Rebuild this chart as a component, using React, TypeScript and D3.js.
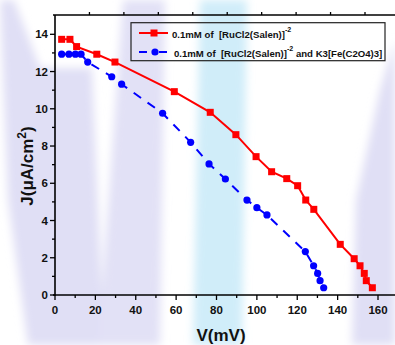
import React from "react";
import * as d3 from "d3";

const redV = [3.3, 7.4, 10.7, 20.7, 29.7, 59.1, 76.9, 89.6, 99.6, 107.3, 114.8, 120.2, 124.2, 128.2, 141.3, 148.2, 151.1, 153.2, 154.2, 157.2];
const redJ = [13.73, 13.73, 13.34, 12.93, 12.51, 10.92, 9.81, 8.61, 7.43, 6.62, 6.25, 5.87, 5.1, 4.6, 2.72, 1.95, 1.57, 1.16, 0.77, 0.39];
const blueV = [3.3, 6.9, 10.1, 12.9, 16.2, 28.1, 33.0, 53.3, 67.2, 76.3, 84.4, 95.1, 100.0, 105.0, 124.0, 128.1, 130.1, 131.3, 133.1];
const blueJ = [12.93, 12.93, 12.93, 12.93, 12.51, 11.72, 11.32, 9.76, 8.2, 7.04, 6.23, 5.1, 4.69, 4.3, 2.33, 1.57, 1.16, 0.77, 0.39];
const xTicks = [0, 20, 40, 60, 80, 100, 120, 140, 160];
const xMinor = [10, 30, 50, 70, 90, 110, 130, 150, 170];
const yTicks = [0, 2, 4, 6, 8, 10, 12, 14];
const yMinor = [1, 3, 5, 7, 9, 11, 13];
const legendLabels = ["0.1mM of  [RuCl2(Salen)]", "0.1mM of  [RuCl2(Salen)]"];
const legendSuffix = ["", " and K3[Fe(C2O4)3]"];

const keepSpaces = (s: string) => s.replace(/ /g, "\u00a0");

export default function App() {
  const W = 395, H = 345;
  const x = d3.scaleLinear().domain([0, 160]).range([55, 378]);
  const y = d3.scaleLinear().domain([0, 14]).range([295, 34.3]);
  const xTop = d3.scaleLinear().domain([0, 9]).range([55, 365]);
  const line = d3.line<[number, number]>().x(d => x(d[0])).y(d => y(d[1]));
  const red: [number, number][] = redV.map((v, i) => [v, redJ[i]]);
  const blue: [number, number][] = blueV.map((v, i) => [v, blueJ[i]]);
  const top = 15, left = 55, bottom = 295;
  const font = "'Liberation Sans', Arial, sans-serif";

  return (
    <svg width={W} height={H} style={{ position: "absolute", left: 0, top: 0, background: "#fff" }} fontFamily={font}>
      <defs>
        <filter id="blur" x="-20%" y="-20%" width="140%" height="140%">
          <feGaussianBlur stdDeviation="4" />
        </filter>
      </defs>
      <g filter="url(#blur)">
        <polygon points="0,0 14,0 40,68 92,68 104,345 28,345 8,200" fill="#e0dff5" />
        <polygon points="123,0 165,0 160,345 98,345" fill="#e2e1f6" />
        <polygon points="200,0 247,0 242,345 193,345" fill="#d0edf9" />
        <polygon points="395,40 380,90 356,200 352,345 395,345" fill="#e0dff5" />
      </g>

      {/* axes */}
      <g stroke="#000" strokeWidth={1.6} fill="none">
        <line x1={left} y1={top} x2={left} y2={bottom + 0.8} />
        <line x1={left - 2} y1={bottom} x2={W} y2={bottom} />
        <line x1={left - 2} y1={top} x2={W} y2={top} />
      </g>
      <g stroke="#000" strokeWidth={1.3}>
        {xTicks.map(t => <line key={"xt" + t} x1={x(t)} x2={x(t)} y1={bottom} y2={bottom + 5} />)}
        {xMinor.map(t => <line key={"xm" + t} x1={x(t)} x2={x(t)} y1={bottom} y2={bottom + 3} />)}
        {yTicks.map(t => <line key={"yt" + t} x1={left - 5} x2={left} y1={y(t)} y2={y(t)} />)}
        {yMinor.map(t => <line key={"ym" + t} x1={left - 3} x2={left} y1={y(t)} y2={y(t)} />)}
        {d3.range(1, 10).map(t => <line key={"tt" + t} x1={xTop(t)} x2={xTop(t)} y1={top} y2={top - 3} />)}
      </g>
      <g fontSize={11.5} fontWeight="bold" fill="#111">
        {xTicks.map(t => (
          <text key={"xl" + t} x={x(t)} y={314} textAnchor="middle">{t}</text>
        ))}
        {yTicks.map(t => (
          <text key={"yl" + t} x={48} y={y(t) + 4} textAnchor="end">{t}</text>
        ))}
      </g>
      <text x={221} y={341} textAnchor="middle" fontSize={17} fontWeight="bold" fill="#111">V(mV)</text>
      <text transform="translate(33,166) rotate(-90)" textAnchor="middle" fontSize={17} fontWeight="bold" fill="#111">
        J(μA/cm<tspan dy={-7} fontSize={12}>2</tspan><tspan dy={7}>)</tspan>
      </text>

      {/* series */}
      <path d={line(red) || ""} fill="none" stroke="#ff0000" strokeWidth={2} />
      {red.map((d, i) => (
        <rect key={"r" + i} x={x(d[0]) - 3.5} y={y(d[1]) - 3.5} width={7} height={7} fill="#ff0000" />
      ))}
      <path d={line(blue) || ""} fill="none" stroke="#0000ff" strokeWidth={2} strokeDasharray="9,8" />
      {blue.map((d, i) => (
        <circle key={"b" + i} cx={x(d[0])} cy={y(d[1])} r={3.6} fill="#0000ff" />
      ))}

      {/* legend */}
      <rect x={131} y={22.7} width={254} height={38} fill="none" stroke="#222" strokeWidth={1.2} />
      <line x1={139} x2={168} y1={33} y2={33} stroke="#ff0000" strokeWidth={2} />
      <rect x={154 - 3.5} y={33 - 3.5} width={7} height={7} fill="#ff0000" />
      <line x1={139} x2={168} y1={52} y2={52} stroke="#0000ff" strokeWidth={2} strokeDasharray="8,12" />
      <circle cx={155} cy={52} r={3.6} fill="#0000ff" />
      <g fontSize={9.6} fontWeight="bold" fill="#111">
        <text x={172} y={37.5}>
          {keepSpaces(legendLabels[0])}<tspan dy={-6} fontSize={7}>-2</tspan>{keepSpaces(legendSuffix[0])}
        </text>
        <text x={174} y={56.5}>
          {keepSpaces(legendLabels[1])}<tspan dy={-6} fontSize={7}>-2</tspan><tspan dy={6}>{keepSpaces(legendSuffix[1])}</tspan>
        </text>
      </g>
    </svg>
  );
}
